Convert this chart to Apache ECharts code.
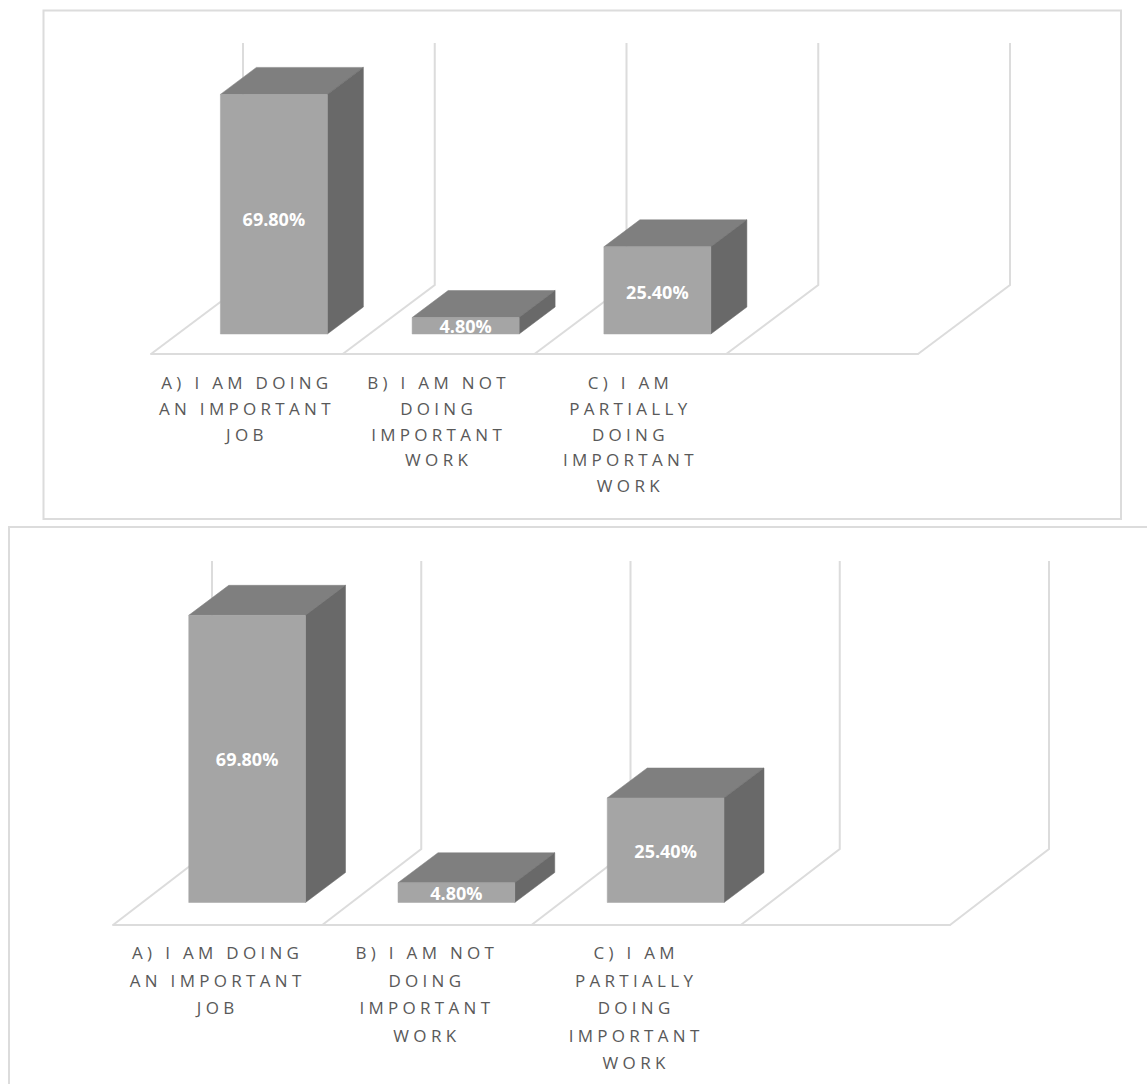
<!DOCTYPE html>
<html><head><meta charset="utf-8">
<style>
html,body{margin:0;padding:0;background:#fff;overflow:hidden}
#c{width:1147px;height:1084px}
#c text[fill="#595959"]{letter-spacing:4.3px}
</style>
<script src="https://cdn.jsdelivr.net/npm/echarts@6/dist/echarts.min.js"></script>
</head><body><div id="c"></div>
<script>
const categories = ["A) I AM DOING\nAN IMPORTANT\nJOB","B) I AM NOT\nDOING\nIMPORTANT\nWORK","C) I AM\nPARTIALLY\nDOING\nIMPORTANT\nWORK",""];
const valuesTop = [69.8,4.8,25.4];
const valuesBottom = [69.8,4.8,25.4];
const axisMaxTop = 70.5;
const axisMaxBottom = 70;
const COLORS = {front:'#a5a5a5',top:'#7f7f7f',side:'#696969',wall:'#dcdcdc',frame:'#dcdcdc',text:'#595959'};

const chart = echarts.init(document.getElementById('c'),null,{renderer:'svg',width:1147,height:1084});

function poly(points,fill){return {type:'polygon',shape:{points},style:{fill,stroke:fill,lineWidth:0.5}};}

function wallSeries(xi,yi,axisMax,wallDx,wallDy){
  return {type:'custom',xAxisIndex:xi,yAxisIndex:yi,coordinateSystem:'cartesian2d',silent:true,z:1,
    data:categories.map((_,i)=>[i,0]),encode:{x:0,y:1},
    renderItem(p,api){
      const i=api.value(0),bw=api.size([1,0])[0],base=api.coord([i,0]),top=api.coord([i,axisMax]);
      const line=x=>({type:'polyline',shape:{points:[[x,base[1]],[x+wallDx,base[1]-wallDy],[x+wallDx,top[1]-wallDy]]},
        style:{stroke:COLORS.wall,lineWidth:2,fill:null}});
      const kids=[line(base[0]-bw/2)];
      if(i===categories.length-1)kids.push(line(base[0]+bw/2));
      return {type:'group',children:kids};
    }};
}

function barSeries(xi,yi,values,geo){
  return {type:'custom',xAxisIndex:xi,yAxisIndex:yi,coordinateSystem:'cartesian2d',silent:true,z:3,
    data:values.map((v,i)=>[i,v]),encode:{x:0,y:1},
    renderItem(p,api){
      const i=api.value(0),v=api.value(1),bw=api.size([1,0])[0];
      const b=api.coord([i,0]),t=api.coord([i,v]);
      const w=bw*geo.widthRatio,x0=b[0]-w/2+geo.offX,x1=x0+w,yb=b[1]-geo.offY,yt=t[1]-geo.offY;
      const dx=geo.dx,dy=geo.dy;
      return {type:'group',children:[
        poly([[x0,yt],[x1,yt],[x1+dx,yt-dy],[x0+dx,yt-dy]],COLORS.top),
        poly([[x1,yb],[x1+dx,yb-dy],[x1+dx,yt-dy],[x1,yt]],COLORS.side),
        poly([[x0,yb],[x1,yb],[x1,yt],[x0,yt]],COLORS.front),
        {type:'text',z2:10,style:{text:v.toFixed(2)+'%',x:(x0+x1)/2,y:(yb+yt)/2+geo.labelDy+(yb-yt)*geo.labelRatio,align:'center',verticalAlign:'middle',
          fill:'#ffffff',font:'bold 18px "Open Sans"'}}
      ]};
    }};
}

function xAxis(gi,lineHeight,margin){
  return {type:'category',gridIndex:gi,data:categories,boundaryGap:true,
    axisTick:{show:false},splitLine:{show:false},
    axisLine:{show:true,lineStyle:{color:COLORS.wall,width:2}},
    axisLabel:{interval:0,color:COLORS.text,fontFamily:'Open Sans',fontSize:17,lineHeight,margin,align:'center'}};
}
function yAxis(gi,max){return {type:'value',gridIndex:gi,min:0,max,show:false,splitLine:{show:false}};}

chart.setOption({
  animation:false,backgroundColor:'#ffffff',
  grid:[{left:151,width:767,top:112,height:242},{left:113,width:837,top:637,height:288}],
  xAxis:[xAxis(0,25.7,16),xAxis(1,27.5,14)],
  yAxis:[yAxis(0,axisMaxTop),yAxis(1,axisMaxBottom)],
  graphic:[
    {type:'rect',silent:true,z:0,shape:{x:43.5,y:10.5,width:1077.5,height:508.5},style:{fill:'none',stroke:COLORS.frame,lineWidth:2}},
    {type:'rect',silent:true,z:0,shape:{x:9,y:527,width:1200,height:620},style:{fill:'none',stroke:COLORS.frame,lineWidth:2}}
  ],
  series:[
    wallSeries(0,0,axisMaxTop,92,69),
    wallSeries(1,1,axisMaxBottom,99,76),
    barSeries(0,0,valuesTop,{widthRatio:0.558,offX:27,offY:20,dx:36,dy:27,labelDy:0,labelRatio:0.02}),
    barSeries(1,1,valuesBottom,{widthRatio:0.558,offX:29.5,offY:22.5,dx:40,dy:30,labelDy:0.5,labelRatio:0})
  ]
});
</script></body></html>
